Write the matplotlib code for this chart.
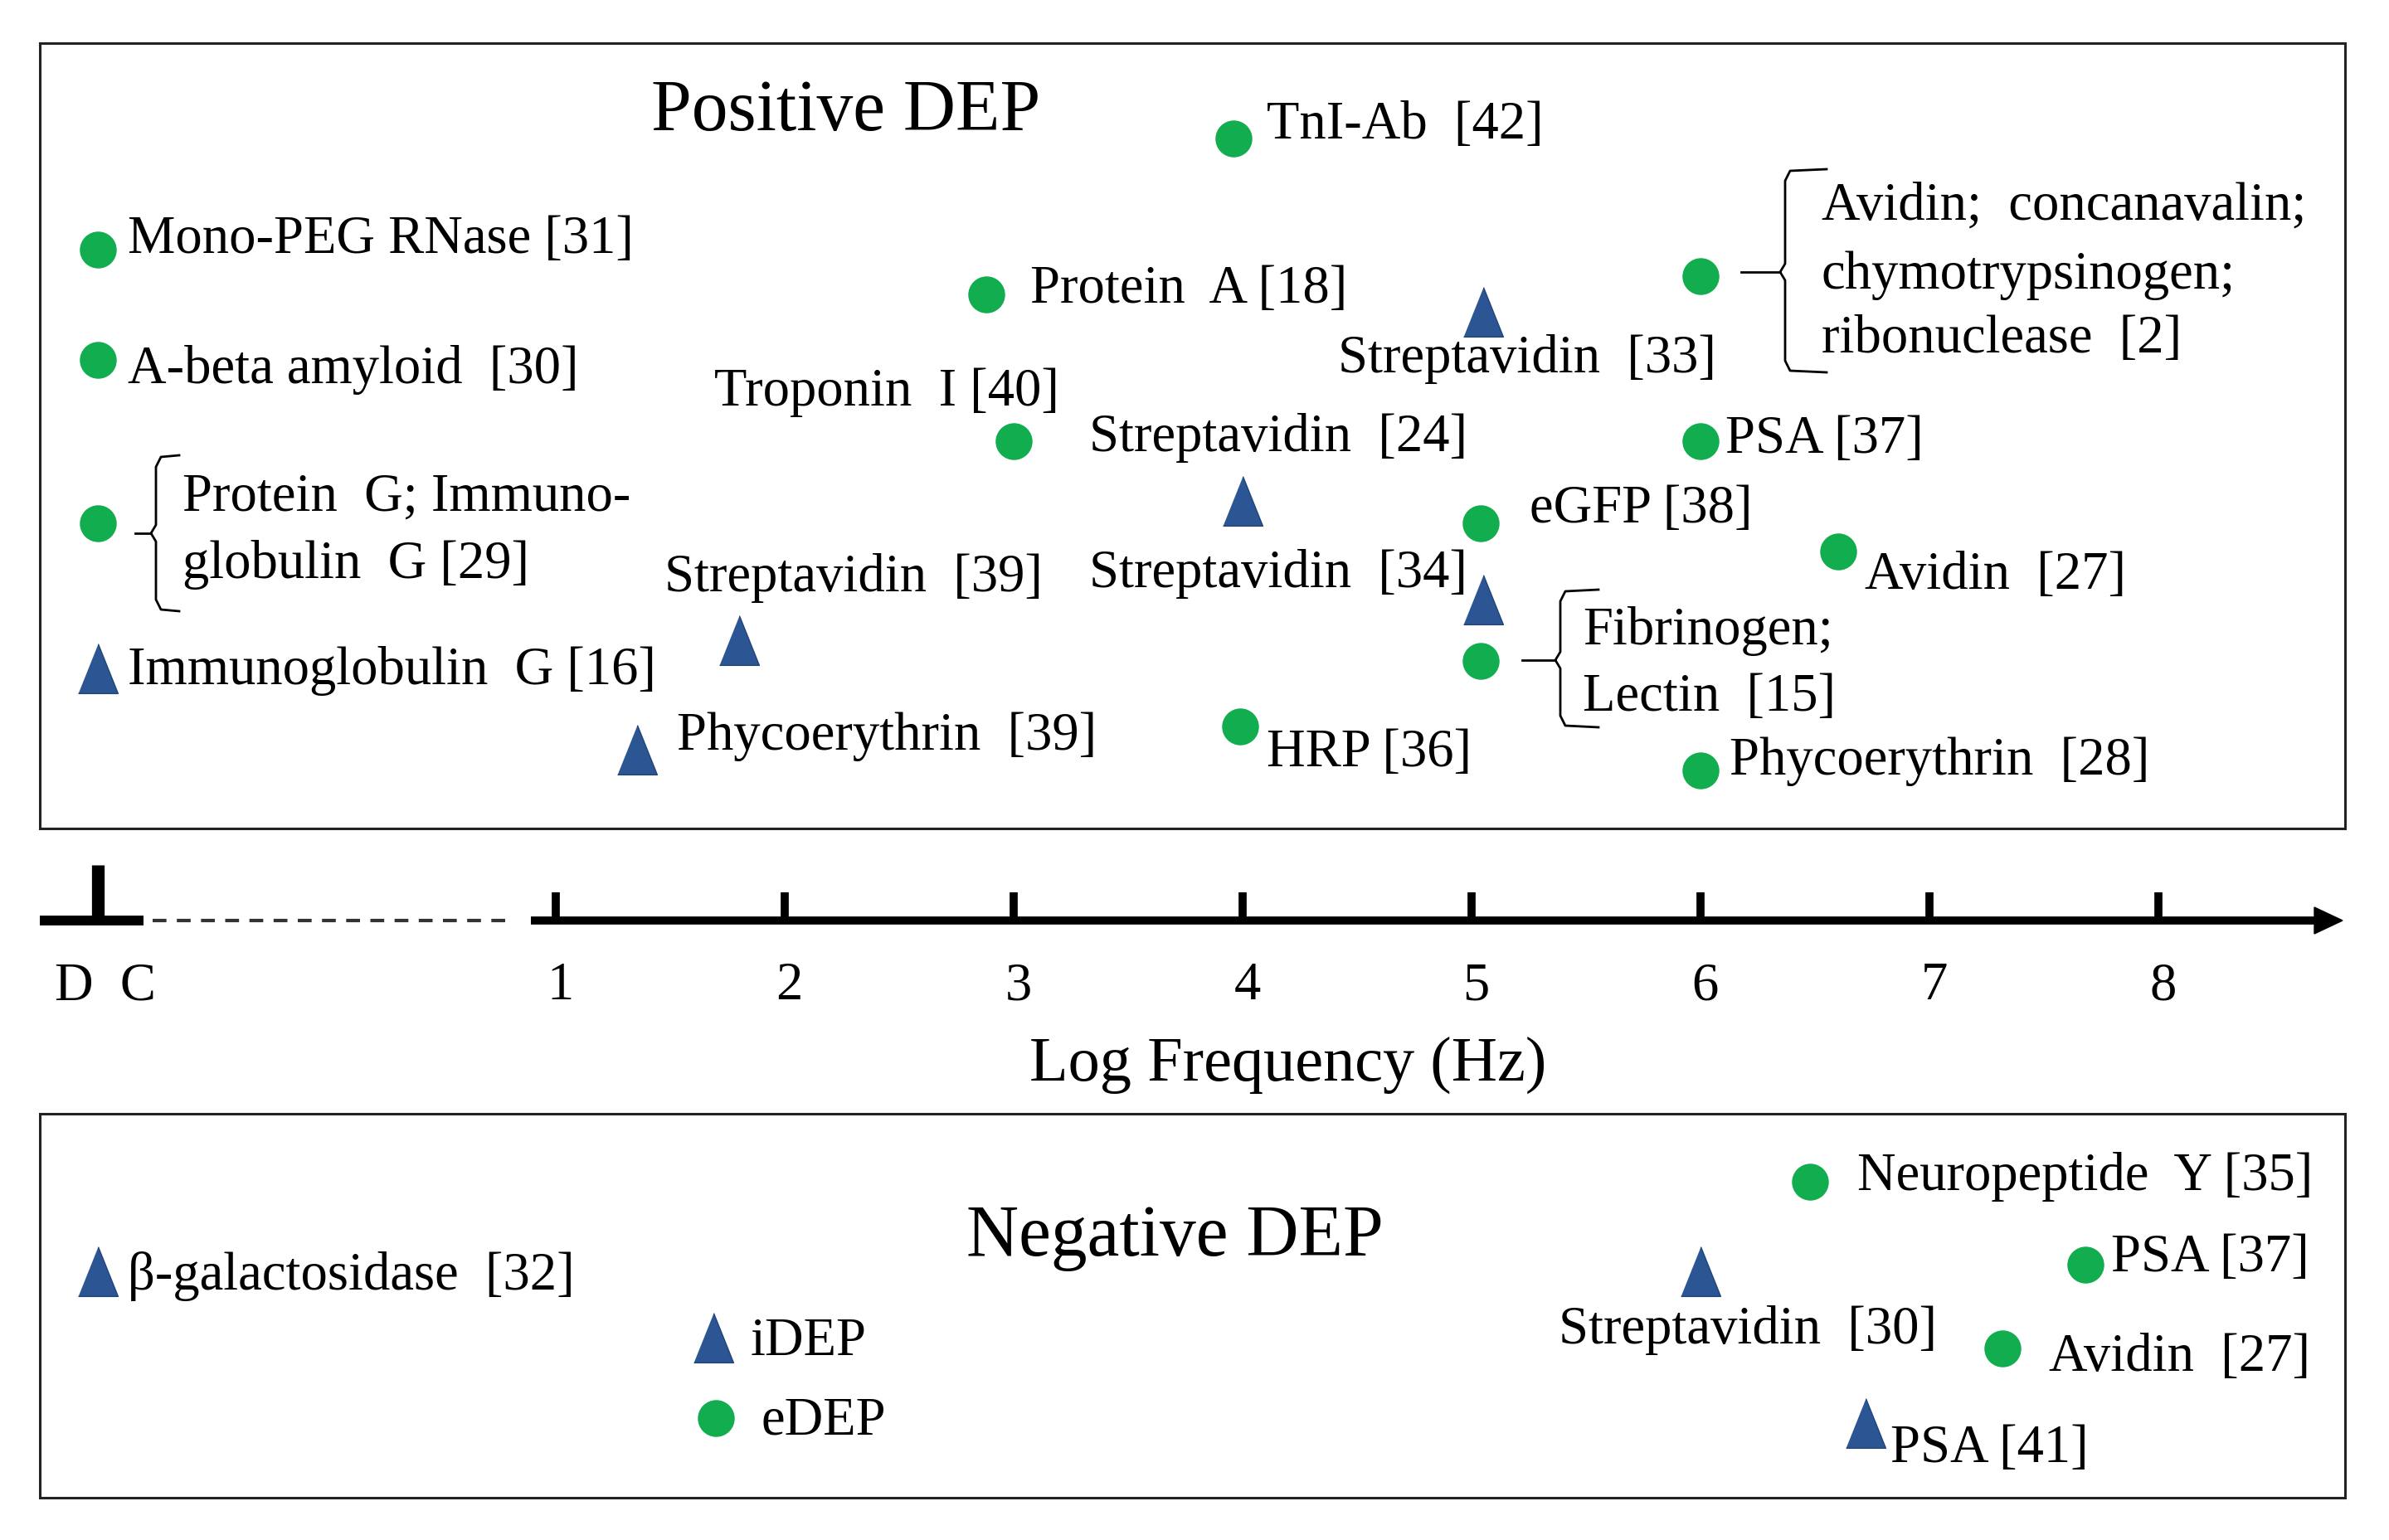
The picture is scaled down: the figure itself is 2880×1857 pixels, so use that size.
"""Positive / negative DEP of proteins against log frequency."""
import matplotlib

matplotlib.use("Agg")
import matplotlib.pyplot as plt
from matplotlib.patches import Polygon, Rectangle

plt.rcParams["font.family"] = ["Liberation Serif", "DejaVu Serif"]

W, H = 2880, 1857
GREEN = "#12ad4f"
BLUE = "#2b5693"
FS = 46.5

# log-frequency ticks; DC sits at -1 on the same axis
freq_ticks = [1, 2, 3, 4, 5, 6, 7, 8]
DC = -1.0

# positive DEP: eDEP (circles) and iDEP (triangles), row = vertical slot in px
pos_circle_freq = [DC, DC, DC, 2.88, 3.0, 3.96, 6.0, 6.0, 5.04, 6.6, 5.04, 3.99, 6.0]
pos_circle_row = [301, 434, 631, 355, 532, 167, 333, 532, 631, 665, 797, 876, 929]
pos_tri_freq = [DC, 1.8, 1.355, 5.05, 4.0, 5.05]
pos_tri_row = [806, 772, 904, 376, 604, 723]

# negative DEP
neg_circle_freq = [6.48, 7.68, 7.32]
neg_circle_row = [1425, 1525, 1626]
neg_tri_freq = [DC, 6.0, 6.72]
neg_tri_row = [1533, 1533, 1716]

# labels: text, left x (px), baseline (px)
pos_labels = [
    ("Mono-PEG RNase [31]", 154, 305),
    ("A-beta amyloid  [30]", 154, 462),
    ("Protein  G; Immuno-", 220, 616),
    ("globulin  G [29]", 220, 697),
    ("Immunoglobulin  G [16]", 154, 825),
    ("TnI-Ab  [42]", 1527, 167),
    ("Protein  A [18]", 1242, 365),
    ("Streptavidin  [33]", 1613, 449),
    ("Avidin;  concanavalin;", 2196, 265),
    ("chymotrypsinogen;", 2196, 348),
    ("ribonuclease  [2]", 2196, 425),
    ("Troponin  I [40]", 861, 489),
    ("Streptavidin  [24]", 1313, 544),
    ("PSA [37]", 2080, 546),
    ("eGFP [38]", 1844, 630),
    ("Streptavidin  [39]", 801, 713),
    ("Streptavidin  [34]", 1313, 708),
    ("Avidin  [27]", 2248, 710),
    ("Fibrinogen;", 1908, 777),
    ("Lectin  [15]", 1908, 857),
    ("Phycoerythrin  [39]", 816, 904),
    ("HRP [36]", 1527, 924),
    ("Phycoerythrin  [28]", 2085, 934),
]
neg_labels = [
    ("\u03b2-galactosidase  [32]", 154, 1555),
    ("iDEP", 905, 1634),
    ("eDEP", 918, 1730),
    ("Neuropeptide  Y [35]", 2239, 1435),
    ("PSA [37]", 2545, 1533),
    ("Streptavidin  [30]", 1879, 1620),
    ("Avidin  [27]", 2470, 1653),
    ("PSA [41]", 2279, 1763),
]


def fx(px):
    """Pixel column -> log frequency."""
    return 1 + (px - 670) / 276


TRI = [(-0.8, -1.0), (0.8, -1.0), (0.0, 1.0)]

fig = plt.figure(figsize=(W / 100, H / 100), dpi=100)
ax = fig.add_axes([0, 0, 1, 1])
ax.set_xlim(fx(0), fx(W))
ax.set_ylim(H, 0)
ax.axis("off")

# panel frames
for top, bot in [(52, 999), (1343, 1806)]:
    ax.add_patch(
        Rectangle((fx(48), top), fx(2827) - fx(48), bot - top,
                  fill=False, lw=2.2, ec="#222222")
    )

# markers
for fr, rw in [(pos_circle_freq, pos_circle_row), (neg_circle_freq, neg_circle_row)]:
    ax.plot(fr, rw, "o", ms=32, color=GREEN, mec="none")
for fr, rw in [(pos_tri_freq, pos_tri_row), (neg_tri_freq, neg_tri_row)]:
    ax.plot(fr, rw, marker=TRI, ls="none", ms=43, color=BLUE, mec="#1f4479", mew=1)
# legend entries in the lower panel
ax.plot([fx(860)], [1613], marker=TRI, ls="none", ms=43, color=BLUE, mec="#1f4479")
ax.plot([fx(863)], [1710], "o", ms=32, color=GREEN, mec="none")

for txt, x, y in pos_labels + neg_labels:
    ax.text(fx(x), y, txt, fontsize=FS, ha="left", va="baseline")

ax.text(fx(785), 157, "Positive DEP", fontsize=63, ha="left", va="baseline")
ax.text(fx(1165), 1514, "Negative DEP", fontsize=63, ha="left", va="baseline")


def brace(x_stub, x_spine, x_hook, y_top, y_mid, y_bot):
    """Curly bracket: hooks top/bottom, small point in the middle."""
    xs = [x_hook, x_spine + 6, x_spine, x_spine, x_spine - 6, x_spine, x_spine,
          x_spine + 6, x_hook]
    ys = [y_top, y_top + 2, y_top + 14, y_mid - 10, y_mid, y_mid + 10, y_bot - 14,
          y_bot - 2, y_bot]
    ax.plot([fx(v) for v in xs], ys, color="black", lw=2, solid_joinstyle="round")
    ax.plot([fx(x_stub), fx(x_spine - 6)], [y_mid, y_mid], color="black", lw=2)


brace(163, 188, 216, 549, 643, 737)
brace(2099, 2152, 2202, 204, 328, 449)
brace(1835, 1881, 1927, 711, 796, 877)

# frequency axis
AY = 1110
ax.plot([fx(48), fx(173)], [AY, AY], color="black", lw=8.5, solid_capstyle="butt")
ax.plot([fx(184), fx(614)], [AY, AY], color="#333333", lw=3, ls=(0, (4, 3)))
ax.plot([fx(640), fx(2795)], [AY, AY], color="black", lw=7, solid_capstyle="butt")
ax.add_patch(Polygon([(fx(2790), AY - 16), (fx(2824), AY), (fx(2790), AY + 16)],
                     closed=True, color="black"))
ax.vlines([DC], 1043, AY, color="black", lw=11)
ax.vlines(freq_ticks, 1076, AY, color="black", lw=7)
for t in freq_ticks:
    ax.text(t + 0.02, 1205, str(t), fontsize=FS, ha="center", va="baseline")
ax.text(fx(66), 1205, "D  C", fontsize=FS, ha="left", va="baseline")
ax.text(fx(1553), 1303, "Log Frequency (Hz)", fontsize=55, ha="center", va="baseline")

fig.savefig("out.png", dpi=100, facecolor="white")
